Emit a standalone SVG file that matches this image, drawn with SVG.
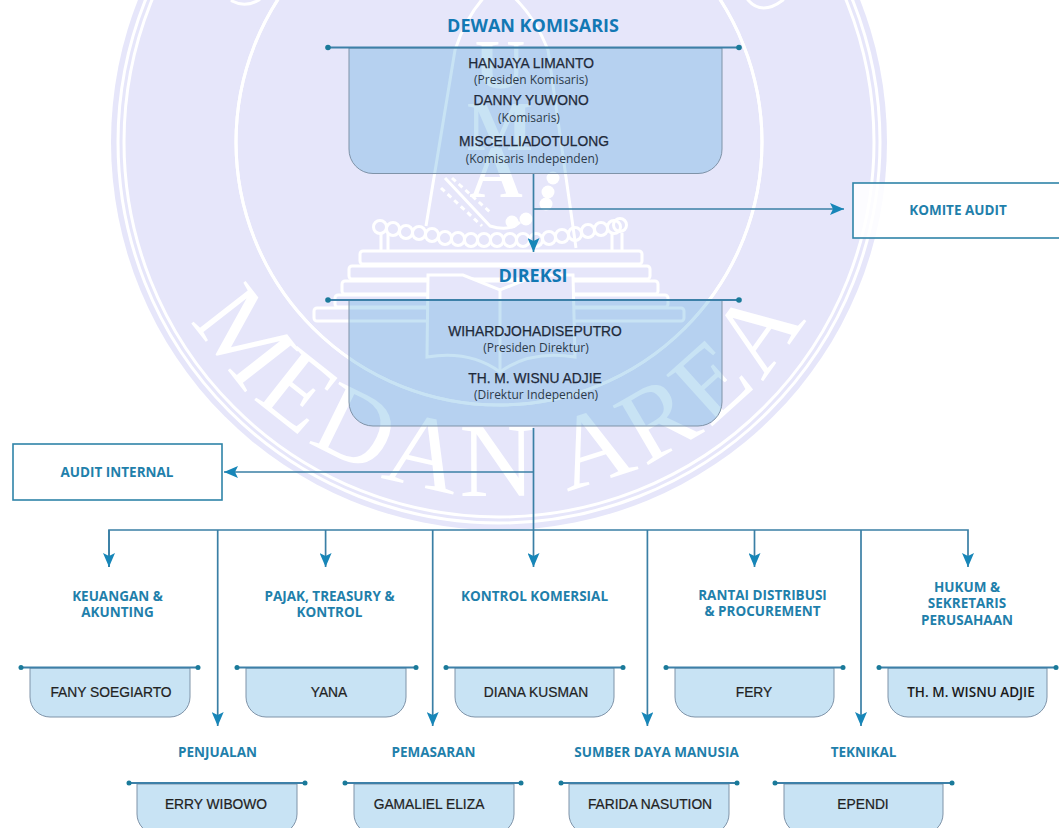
<svg xmlns="http://www.w3.org/2000/svg" width="1059" height="828" viewBox="0 0 1059 828">
<style>
text{text-anchor:middle}
.wm{fill:none;stroke:#fff;stroke-width:3}
.wf{fill:#fff}
.box{fill:#49a3d9;fill-opacity:.3;stroke:#7f93a8;stroke-width:1}
.bar{stroke:#3d80a8;stroke-width:2;fill:none}
.dot{fill:#1a7a9a}
.conn{stroke:#3a7fa5;stroke-width:1.7;fill:none}
.h1{font:700 18px "Open Sans",sans-serif;fill:#1278b4}
.h2{font:700 13.5px "Open Sans",sans-serif;fill:#1f80ab}
.name{font:13.8px "Liberation Sans",sans-serif;fill:#1f2a3a;stroke:#1f2a3a;stroke-width:.25}
.sub{font:12px "Open Sans",sans-serif;fill:#2c3a4a}
.sn{font:13.8px "Liberation Sans",sans-serif;fill:#222;stroke:#222;stroke-width:.2}
.frame{fill:#fff;fill-opacity:.85;stroke:#2f84a8;stroke-width:1.6}
</style>
<defs>
<marker id="arr" markerUnits="userSpaceOnUse" markerWidth="14" markerHeight="12" refX="14" refY="6" orient="auto"><path d="M0 0L14 6L0 12L3 6Z" fill="#1786b8"/></marker>
<path id="arc" d="M192.4 319A354 354 0 0 0 808.6 313.6"/>
</defs>
<rect width="1059" height="828" fill="#fff"/>
<g id="watermark">
<circle cx="499" cy="142" r="388" fill="#e6e6fa"/>
<circle class="wm" cx="499" cy="142" r="381" stroke-width="2.5"/>
<circle class="wm" cx="499" cy="142" r="375" stroke-width="2.5"/>
<circle class="wm" cx="499" cy="142" r="263"/>
<path class="wm" stroke-width="5" stroke-linecap="round" d="M232 1Q245 8 259 0M748 0Q762 16 783 0"/>
<path class="wm" stroke-width="3.500" d="M426 226L455 50Q470 5 498 -15Q530 5 548 50L576 248"/>
<text class="wf" x="500" y="88" font-family="Liberation Serif,serif" font-weight="700" font-size="70">U</text>
<text class="wf" x="500" y="150" font-family="Liberation Serif,serif" font-weight="700" font-size="70">M</text>
<text class="wf" x="496" y="197" font-family="Liberation Serif,serif" font-weight="700" font-size="74">A</text>
<path class="wm" d="M445 178L490 226Q510 232 520 222"/>
<path class="wm" stroke-width="5" stroke-dasharray="5 4" d="M441 188L482 226M452 178L490 212"/>
<g class="wf"><circle cx="553" cy="178" r="6.500"/><circle cx="548" cy="192" r="6.500"/><circle cx="546" cy="204" r="6.500"/><circle cx="526" cy="219" r="6.500"/><circle cx="512" cy="222" r="6.500"/></g>
<g class="wm" stroke-width="3.500">
<circle cx="380" cy="227" r="6.500"/><circle cx="393" cy="229" r="6.500"/><circle cx="406" cy="232" r="6.500"/><circle cx="419" cy="233" r="6.500"/><circle cx="432" cy="235" r="6.500"/><circle cx="445" cy="238" r="6.500"/><circle cx="458" cy="239" r="6.500"/><circle cx="471" cy="240" r="6.500"/><circle cx="484" cy="240" r="6.500"/><circle cx="497" cy="240" r="6.500"/><circle cx="510" cy="240" r="6.500"/><circle cx="523" cy="240" r="6.500"/><circle cx="536" cy="240" r="6.500"/><circle cx="549" cy="238" r="6.500"/><circle cx="562" cy="236" r="6.500"/><circle cx="575" cy="234" r="6.500"/><circle cx="588" cy="231" r="6.500"/><circle cx="601" cy="229" r="6.500"/><circle cx="614" cy="227" r="6.500"/><circle cx="620" cy="225" r="6.500"/>
<path d="M381 233V250M388 233V250M612 233V250M622 233V250"/>
<rect x="360" y="251" width="282" height="13" rx="3"/>
<rect x="349" y="266" width="301" height="13" rx="3"/>
<rect x="342" y="281" width="316" height="13" rx="3"/>
<rect x="335" y="295" width="333" height="12" rx="3"/>
<rect x="314" y="308" width="370" height="13" rx="3"/>
</g>
<path fill="#e6e6fa" stroke="#fff" stroke-width="3" d="M428 275L463 275L500 290L537 275L573 275L575 357Q530 350 500 372Q470 350 427 357Z"/>
<path class="wm" stroke-width="5" d="M500 290V370"/>
<circle class="wm" cx="499" cy="142" r="263"/>
<text class="wf" font-family="Liberation Serif,serif" font-size="105" letter-spacing="5.5" style="text-anchor:start"><textPath href="#arc">MEDAN AREA</textPath></text>
</g>
<g id="connectors">
<path class="conn" d="M533.5 173V252" marker-end="url(#arr)"/>
<path class="conn" d="M533.5 209H844" marker-end="url(#arr)"/>
<path class="conn" d="M533.5 428V530"/>
<path class="conn" d="M533.5 472H224" marker-end="url(#arr)"/>
<path class="conn" d="M109 567V530H968V567" marker-end="url(#arr)"/>
<path class="conn" d="M109 530V567" marker-end="url(#arr)"/>
<path class="conn" d="M325.6 530V567" marker-end="url(#arr)"/>
<path class="conn" d="M533.5 530V567" marker-end="url(#arr)"/>
<path class="conn" d="M754.5 530V567" marker-end="url(#arr)"/>
<path class="conn" d="M217.7 530V726" marker-end="url(#arr)"/>
<path class="conn" d="M432.7 530V726" marker-end="url(#arr)"/>
<path class="conn" d="M647.4 530V726" marker-end="url(#arr)"/>
<path class="conn" d="M861 530V726" marker-end="url(#arr)"/>
</g>
<g id="dewan-komisaris">
<text class="h1" x="533" y="31.500">DEWAN KOMISARIS</text>
<path class="box" d="M349 48V149A24 24 0 0 0 373 173.500H698A24 24 0 0 0 722 149V48Z"/>
<path class="bar" d="M328 47.500H739"/><circle class="dot" cx="328" cy="47.500" r="2.800"/><circle class="dot" cx="739" cy="47.500" r="2.800"/>
<text class="name" x="531" y="68">HANJAYA LIMANTO</text>
<text class="sub" x="531" y="84">(Presiden Komisaris)</text>
<text class="name" x="531" y="105">DANNY YUWONO</text>
<text class="sub" x="529" y="122">(Komisaris)</text>
<text class="name" x="534" y="146" word-spacing="-3.500">MISCELLIA DOTULONG</text>
<text class="sub" x="532" y="163">(Komisaris Independen)</text>
</g>
<g id="komite-audit">
<rect class="frame" x="853" y="183" width="215" height="55"/>
<text class="h2" x="958" y="215" font-size="12.500">KOMITE AUDIT</text>
</g>
<g id="direksi">
<text class="h1" x="533" y="281.500">DIREKSI</text>
<path class="box" d="M349 300V402A24 24 0 0 0 373 426H698A24 24 0 0 0 722 402V300Z"/>
<path class="bar" d="M328 300H739"/><circle class="dot" cx="328" cy="300" r="2.800"/><circle class="dot" cx="739" cy="300" r="2.800"/>
<text class="name" x="535" y="336" word-spacing="-3.500">WIHARDJO HADISEPUTRO</text>
<text class="sub" x="536" y="352">(Presiden Direktur)</text>
<text class="name" x="535" y="383">TH. M. WISNU ADJIE</text>
<text class="sub" x="536" y="399">(Direktur Independen)</text>
</g>
<g id="audit-internal">
<rect class="frame" x="13" y="444" width="209" height="56"/>
<text class="h2" x="117" y="477" font-size="12.500">AUDIT INTERNAL</text>
</g>
<g id="keuangan">
<text class="h2" x="117.500" y="601">KEUANGAN &amp;</text><text class="h2" x="117.500" y="617">AKUNTING</text>
<path class="box" d="M30 668V697A20 20 0 0 0 50 717H170A20 20 0 0 0 190 697V668Z"/>
<path class="bar" d="M21 667.500H198"/><circle class="dot" cx="21" cy="667.500" r="2.500"/><circle class="dot" cx="198" cy="667.500" r="2.500"/>
<text class="sn" x="111" y="697">FANY SOEGIARTO</text>
</g>
<g id="pajak">
<text class="h2" x="329.500" y="601">PAJAK, TREASURY &amp;</text><text class="h2" x="329.500" y="617">KONTROL</text>
<path class="box" d="M246 668V697A20 20 0 0 0 266 717H386A20 20 0 0 0 406 697V668Z"/>
<path class="bar" d="M237 667.500H416"/><circle class="dot" cx="237" cy="667.500" r="2.500"/><circle class="dot" cx="416" cy="667.500" r="2.500"/>
<text class="sn" x="329" y="697">YANA</text>
</g>
<g id="kontrol-komersial">
<text class="h2" x="534.500" y="600.500">KONTROL KOMERSIAL</text>
<path class="box" d="M455 668V697A20 20 0 0 0 475 717H594A20 20 0 0 0 614 697V668Z"/>
<path class="bar" d="M446 667.500H623"/><circle class="dot" cx="446" cy="667.500" r="2.500"/><circle class="dot" cx="623" cy="667.500" r="2.500"/>
<text class="sn" x="536" y="697">DIANA KUSMAN</text>
</g>
<g id="rantai">
<text class="h2" x="762.500" y="599.500">RANTAI DISTRIBUSI</text><text class="h2" x="762.500" y="615.500">&amp; PROCUREMENT</text>
<path class="box" d="M675 668V697A20 20 0 0 0 695 717H814A20 20 0 0 0 834 697V668Z"/>
<path class="bar" d="M666 667.500H843"/><circle class="dot" cx="666" cy="667.500" r="2.500"/><circle class="dot" cx="843" cy="667.500" r="2.500"/>
<text class="sn" x="754" y="697">FERY</text>
</g>
<g id="hukum">
<text class="h2" x="967" y="591.500">HUKUM &amp;</text><text class="h2" x="967" y="608">SEKRETARIS</text><text class="h2" x="967" y="624.500">PERUSAHAAN</text>
<path class="box" d="M888 668V697A20 20 0 0 0 908 717H1027A20 20 0 0 0 1047 697V668Z"/>
<path class="bar" d="M879 667.500H1056"/><circle class="dot" cx="879" cy="667.500" r="2.500"/><circle class="dot" cx="1056" cy="667.500" r="2.500"/>
<text x="971" y="697" style="font:600 13.500px 'Open Sans',sans-serif;fill:#1a1a1a">TH. M. WISNU ADJIE</text>
</g>
<g id="penjualan">
<text class="h2" x="217.500" y="756.500">PENJUALAN</text>
<path class="box" d="M137 784V814A20 20 0 0 0 157 834H277A20 20 0 0 0 297 814V784Z"/>
<path class="bar" d="M129 783H305"/><circle class="dot" cx="129" cy="783" r="2.500"/><circle class="dot" cx="305" cy="783" r="2.500"/>
<text class="sn" x="216" y="809">ERRY WIBOWO</text>
</g>
<g id="pemasaran">
<text class="h2" x="433.500" y="756.500">PEMASARAN</text>
<path class="box" d="M354 784V814A20 20 0 0 0 374 834H494A20 20 0 0 0 514 814V784Z"/>
<path class="bar" d="M345 783H521"/><circle class="dot" cx="345" cy="783" r="2.500"/><circle class="dot" cx="521" cy="783" r="2.500"/>
<text class="sn" x="429" y="809">GAMALIEL ELIZA</text>
</g>
<g id="sdm">
<text class="h2" x="656.500" y="757">SUMBER DAYA MANUSIA</text>
<path class="box" d="M569 784V814A20 20 0 0 0 589 834H709A20 20 0 0 0 729 814V784Z"/>
<path class="bar" d="M561 783H737"/><circle class="dot" cx="561" cy="783" r="2.500"/><circle class="dot" cx="737" cy="783" r="2.500"/>
<text class="sn" x="650" y="809">FARIDA NASUTION</text>
</g>
<g id="teknikal">
<text class="h2" x="863.500" y="756.500">TEKNIKAL</text>
<path class="box" d="M784 784V814A20 20 0 0 0 804 834H923A20 20 0 0 0 943 814V784Z"/>
<path class="bar" d="M775 783H952"/><circle class="dot" cx="775" cy="783" r="2.500"/><circle class="dot" cx="952" cy="783" r="2.500"/>
<text class="sn" x="863" y="809">EPENDI</text>
</g>
</svg>
